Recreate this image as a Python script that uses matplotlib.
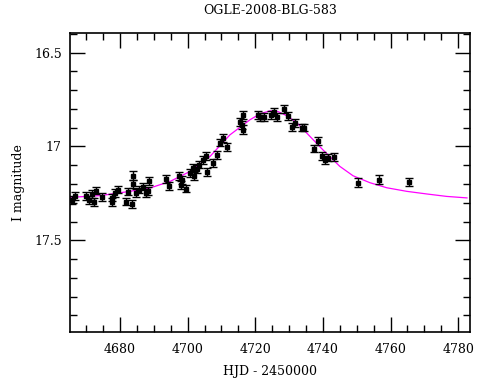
import matplotlib
matplotlib.use("Agg")
import matplotlib.pyplot as plt
from matplotlib.ticker import MultipleLocator, FixedLocator

title = "OGLE-2008-BLG-583"
xlabel = "HJD - 2450000"
ylabel = "I magnitude"

hjd = [4665.7, 4666.7, 4670.0, 4670.8, 4671.7, 4672.3, 4672.9, 4674.7, 4677.6, 4677.6,
       4678.5, 4679.4, 4681.8, 4682.4, 4683.6, 4683.9, 4683.9, 4684.7, 4685.6, 4686.8,
       4687.7, 4688.3, 4688.6, 4693.6, 4694.5, 4697.4, 4698.0, 4698.3, 4699.5, 4700.7,
       4701.6, 4701.9, 4702.8, 4703.4, 4704.5, 4705.4, 4705.7, 4707.5, 4708.7, 4709.6,
       4710.5, 4711.6, 4715.5, 4716.1, 4716.4, 4716.4, 4720.8, 4721.4, 4722.6, 4724.6,
       4725.5, 4726.4, 4728.5, 4729.7, 4730.8, 4731.7, 4733.8, 4734.4, 4737.4, 4738.6,
       4739.7, 4740.7, 4741.5, 4743.3, 4750.4, 4756.6, 4765.5]
mag = [17.284, 17.263, 17.263, 17.284, 17.252, 17.294, 17.235, 17.268, 17.273, 17.294,
       17.247, 17.230, 17.294, 17.241, 17.305, 17.156, 17.199, 17.247, 17.230, 17.214,
       17.247, 17.236, 17.182, 17.172, 17.209, 17.156, 17.204, 17.178, 17.225, 17.140,
       17.113, 17.156, 17.119, 17.097, 17.071, 17.050, 17.135, 17.087, 17.045, 16.980,
       16.954, 17.002, 16.869, 16.885, 16.831, 16.911, 16.831, 16.842, 16.842, 16.831,
       16.815, 16.842, 16.800, 16.837, 16.895, 16.874, 16.900, 16.900, 17.012, 16.970,
       17.050, 17.071, 17.060, 17.055, 17.193, 17.177, 17.188]
err = [0.022, 0.020, 0.020, 0.020, 0.020, 0.022, 0.020, 0.020, 0.020, 0.022,
       0.020, 0.020, 0.020, 0.020, 0.022, 0.025, 0.022, 0.020, 0.020, 0.020,
       0.022, 0.020, 0.022, 0.020, 0.022, 0.020, 0.022, 0.020, 0.020, 0.020,
       0.020, 0.020, 0.020, 0.020, 0.020, 0.020, 0.022, 0.020, 0.020, 0.020,
       0.020, 0.020, 0.022, 0.022, 0.020, 0.025, 0.020, 0.020, 0.020, 0.020,
       0.020, 0.020, 0.020, 0.020, 0.020, 0.020, 0.020, 0.020, 0.020, 0.022,
       0.020, 0.022, 0.020, 0.022, 0.025, 0.025, 0.022]

model_t = [4665.2, 4674.1, 4682.9, 4688.9, 4694.8, 4700.7, 4706.6, 4712.5, 4718.4,
           4721.4, 4724.4, 4726.7, 4729.4, 4732.3, 4736.2, 4740.0, 4745.0, 4748.9,
           4753.9, 4758.9, 4764.8, 4770.7, 4776.6, 4782.6]
model_m = [17.271, 17.262, 17.239, 17.221, 17.186, 17.133, 17.053, 16.938, 16.858,
           16.826, 16.810, 16.814, 16.837, 16.874, 16.947, 17.018, 17.106, 17.156,
           17.193, 17.220, 17.239, 17.253, 17.266, 17.274]

plt.rcParams['font.family'] = ['DejaVu Serif']
fig = plt.figure(figsize=(4.9, 3.8), dpi=100)
ax = fig.add_axes([0.1429, 0.1255, 0.8163, 0.7869])

ax.plot(model_t, model_m, color='#ff00ff', lw=0.9, zorder=2)
ax.errorbar(hjd, mag, yerr=err, fmt='s', color='black', ms=3.5, elinewidth=1.0,
            capsize=3, capthick=1.0, zorder=3)

ax.set_xlim(4665.2, 4783.5)
ax.set_ylim(17.99, 16.397)
ax.xaxis.set_major_locator(MultipleLocator(20))
ax.xaxis.set_minor_locator(MultipleLocator(5))
ax.yaxis.set_major_locator(FixedLocator([16.5, 17.0, 17.5]))
ax.yaxis.set_minor_locator(MultipleLocator(0.1))
ax.set_yticklabels(['16.5', '17', '17.5'])

ax.tick_params(which='both', direction='in', top=True, right=True, width=1.0,
               labelsize=9, color='black')
ax.tick_params(which='major', length=11)
ax.tick_params(which='minor', length=5)
ax.tick_params(axis='x', pad=8)
ax.tick_params(axis='y', pad=6)
for s in ax.spines.values():
    s.set_linewidth(1.2)

ax.set_title(title, fontsize=9, pad=14)
ax.set_xlabel(xlabel, fontsize=9, labelpad=6)
ax.set_ylabel(ylabel, fontsize=9)
ax.yaxis.set_label_coords(-0.112, 0.5)

fig.savefig("out.png", dpi=100)
